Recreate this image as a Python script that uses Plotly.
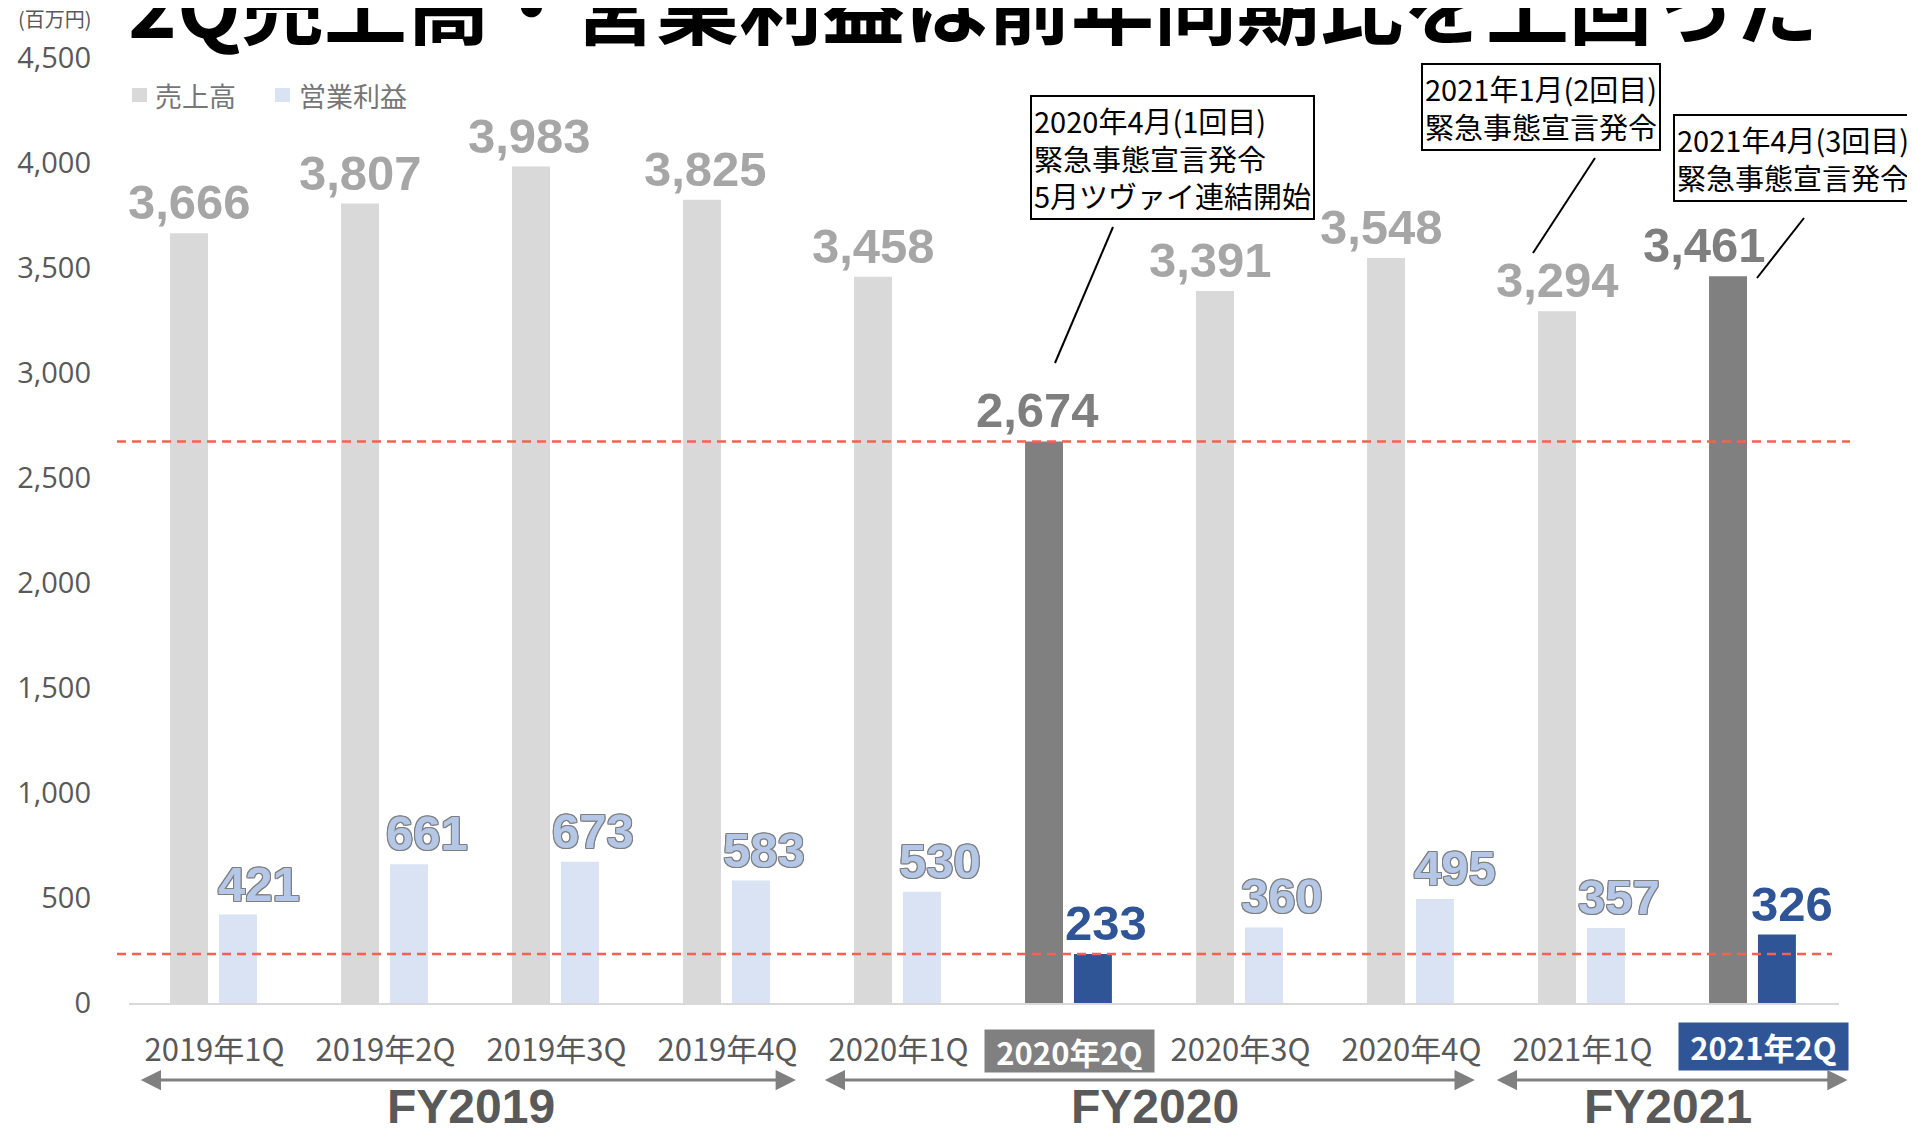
import plotly.graph_objects as go

# ---------------- data ----------------
categories = ["2019年1Q", "2019年2Q", "2019年3Q", "2019年4Q", "2020年1Q",
              "2020年2Q", "2020年3Q", "2020年4Q", "2021年1Q", "2021年2Q"]
sales = [3666, 3807, 3983, 3825, 3458, 2674, 3391, 3548, 3294, 3461]
op_profit = [421, 661, 673, 583, 530, 233, 360, 495, 357, 326]
highlight = [False, False, False, False, False, True, False, False, False, True]
series_names = ["売上高", "営業利益"]
y_ticks = [0, 500, 1000, 1500, 2000, 2500, 3000, 3500, 4000, 4500]
title_text = "2Q売上高・営業利益は前年同期比を上回った"
unit_text = "(百万円)"
callout_texts = [
    "2020年4月(1回目)<br>緊急事態宣言発令<br>5月ツヴァイ連結開始",
    "2021年1月(2回目)<br>緊急事態宣言発令",
    "2021年4月(3回目)<br>緊急事態宣言発令",
]

# ---------------- layout geometry (page has an 8px body margin) ----------------
PAGE_OFF = 8
W, H = 1915 - PAGE_OFF, 1130 - PAGE_OFF
PL, PR, PT, PB = 129, 1839, 58, 1003          # plot area on screen
ML, MR, MT, MB = PL - PAGE_OFF, 1915 - PR, PT - PAGE_OFF, 1130 - PB
PW, PH = PR - PL, PB - PT
cat_px = PW / len(categories)

CJK = "Noto Sans CJK JP"
NUM = "Liberation Sans, Arial, sans-serif"
GREY_TXT = "#595959"

bar_w = 0.222
off_sales, off_profit = -0.260, 0.026
sales_colors = ["#808080" if h else "#D9D9D9" for h in highlight]
profit_colors = ["#2F5597" if h else "#DAE3F3" for h in highlight]
legend_colors = ["#D9D9D9", "#DAE3F3"]


def px_x(p):
    return (p - PL) / PW


def px_y(p):
    return (PB - p) / PH


fig = go.Figure()
fig.add_trace(go.Bar(x=categories, y=sales, name=series_names[0],
                     marker=dict(color=sales_colors, line=dict(width=0)),
                     width=bar_w, offset=off_sales, hoverinfo="skip", showlegend=False))
fig.add_trace(go.Bar(x=categories, y=op_profit, name=series_names[1],
                     marker=dict(color=profit_colors, line=dict(width=0)),
                     width=bar_w, offset=off_profit, hoverinfo="skip", showlegend=False))

annotations = []
shapes = []

# value labels
sales_dx = [0, 0, -2, 3, 0, -7, -5, -5, 0, -24]
profit_dx = [21, 18, 13, 13, 18, 13, 18, 20, 13, 15]
sc = (off_sales + bar_w / 2) * cat_px
pc = (off_profit + bar_w / 2) * cat_px
oc = "#7F7F7F"
outline = ", ".join(f"{a}px {b}px 0 {oc}" for a, b in
                    [(-1, -1), (1, -1), (-1, 1), (1, 1), (0, 1), (0, -1), (1, 0), (-1, 0)])
for i, c in enumerate(categories):
    annotations.append(dict(
        x=c, y=sales[i], xref="x", yref="y", text=f"{sales[i]:,}", showarrow=False,
        xanchor="center", yanchor="bottom", xshift=sc + sales_dx[i], yshift=2,
        font=dict(family=NUM, size=49, weight="bold",
                  color="#7F7F7F" if highlight[i] else "#A6A6A6")))
    pf = dict(family=NUM, size=49, weight="bold",
              color="#2F5597" if highlight[i] else "#B4C7E7")
    if not highlight[i]:
        pf["shadow"] = outline
    annotations.append(dict(
        x=c, y=op_profit[i], xref="x", yref="y", text=f"{op_profit[i]:,}", showarrow=False,
        xanchor="center", yanchor="bottom", xshift=pc + profit_dx[i], yshift=2, font=pf))

# highlighted tick labels (boxes placed in screen pixels)
hl_style = {5: ("#808080", 1069, 1051, 42), 9: ("#2F5597", 1763, 1046.5, 47)}
for i, (bg, xc, yc, hh) in hl_style.items():
    annotations.append(dict(
        x=px_x(xc), xref="paper", y=px_y(yc), yref="paper", text=categories[i],
        showarrow=False, xanchor="center", yanchor="middle",
        bgcolor=bg, width=165, height=hh - 4, borderpad=2,
        font=dict(family=CJK, size=31, weight="bold", color="white")))

# fiscal-year groups (derived from the categories)
fy_groups = {}
for i, c in enumerate(categories):
    fy_groups.setdefault("FY" + c[:4], []).append(i)
arrow_pad = [(0.44, 0.40), (0.44, 0.37), (0.51, 0.55)]
for (fy, idx), (p0, p1) in zip(fy_groups.items(), arrow_pad):
    start, end = idx[0] - p0, idx[-1] + p1
    annotations.append(dict(
        x=end, y=px_y(1080), xref="x", yref="paper", ax=start, ay=0,
        axref="x", ayref="pixel", text="", showarrow=True,
        arrowside="end+start", arrowhead=2, arrowsize=1.35, arrowwidth=3,
        arrowcolor="#808080", standoff=0, startstandoff=0))
    annotations.append(dict(
        x=(idx[0] + idx[-1]) / 2, y=px_y(1106), xref="x", yref="paper",
        text=fy, showarrow=False, xanchor="center", yanchor="middle",
        font=dict(family=NUM, size=48, weight="bold", color=GREY_TXT)))

# title & unit
annotations.append(dict(
    x=px_x(126), y=px_y(2), xref="paper", yref="paper", text=title_text,
    showarrow=False, xanchor="left", yanchor="middle",
    font=dict(family=CJK, size=83, weight="bold", color="black")))
annotations.append(dict(
    x=px_x(16), y=px_y(18), xref="paper", yref="paper", text=unit_text,
    showarrow=False, xanchor="left", yanchor="middle",
    font=dict(family=CJK, size=20, color=GREY_TXT)))

# manual legend
legend_items = [(132, 153), (275, 297)]
for name, col, (sx, tx) in zip(series_names, legend_colors, legend_items):
    shapes.append(dict(type="rect", xref="paper", yref="paper",
                       x0=px_x(sx), x1=px_x(sx + 15), y0=px_y(102), y1=px_y(88),
                       fillcolor=col, line=dict(width=0)))
    annotations.append(dict(
        x=px_x(tx), y=px_y(95), xref="paper", yref="paper", text=name,
        showarrow=False, xanchor="left", yanchor="middle",
        font=dict(family=CJK, size=27, color="#767676")))

# callouts
callout_pos = [(1172.5, 157.5), (1540.5, 106.5), (1792.5, 158.5)]
for t, (cx, cy) in zip(callout_texts, callout_pos):
    annotations.append(dict(
        x=px_x(cx), y=px_y(cy), xref="paper", yref="paper", text=t,
        showarrow=False, xanchor="center", yanchor="middle", align="left",
        bgcolor="white", bordercolor="black", borderwidth=2, borderpad=2,
        font=dict(family=CJK, size=29, color="black")))

leaders = [((1113, 227), (1055, 363)), ((1595, 158), (1533, 253)), ((1804, 218), (1757, 278))]
for (x0, y0), (x1, y1) in leaders:
    shapes.append(dict(type="line", xref="paper", yref="paper",
                       x0=px_x(x0), y0=px_y(y0), x1=px_x(x1), y1=px_y(y1),
                       line=dict(color="black", width=2)))
# reference lines at the 2020年2Q levels
shapes.append(dict(type="line", xref="paper", yref="y", x0=px_x(117), x1=px_x(1850),
                   y0=sales[5], y1=sales[5],
                   line=dict(color="#F8604F", width=2.5, dash="9px,6px")))
shapes.append(dict(type="line", xref="paper", yref="y", x0=px_x(117), x1=px_x(1832),
                   y0=op_profit[5], y1=op_profit[5],
                   line=dict(color="#F8604F", width=2.5, dash="9px,6px")))

fig.update_layout(
    width=W, height=H,
    margin=dict(l=ML, r=MR, t=MT, b=MB, autoexpand=False),
    paper_bgcolor="white", plot_bgcolor="white",
    barmode="overlay",
    showlegend=False,
    xaxis=dict(type="category", categoryorder="array", categoryarray=categories,
               range=[-0.5, len(categories) - 0.5], autorange=False,
               tickvals=categories,
               ticktext=["" if h else c for c, h in zip(categories, highlight)],
               showline=True, linecolor="#D9D9D9", linewidth=2, ticks="",
               showgrid=False, zeroline=False, ticklabelstandoff=19,
               tickfont=dict(family=CJK, size=31, color=GREY_TXT), fixedrange=True),
    yaxis=dict(range=[0, 4500], autorange=False, tickvals=y_ticks, tickformat=",",
               showgrid=False, zeroline=False, showline=False, ticks="",
               ticklabelstandoff=37,
               tickfont=dict(family="Open Sans, Noto Sans, sans-serif", size=29, color=GREY_TXT),
               fixedrange=True),
    annotations=annotations,
    shapes=shapes,
)

fig.write_html("out.html")
